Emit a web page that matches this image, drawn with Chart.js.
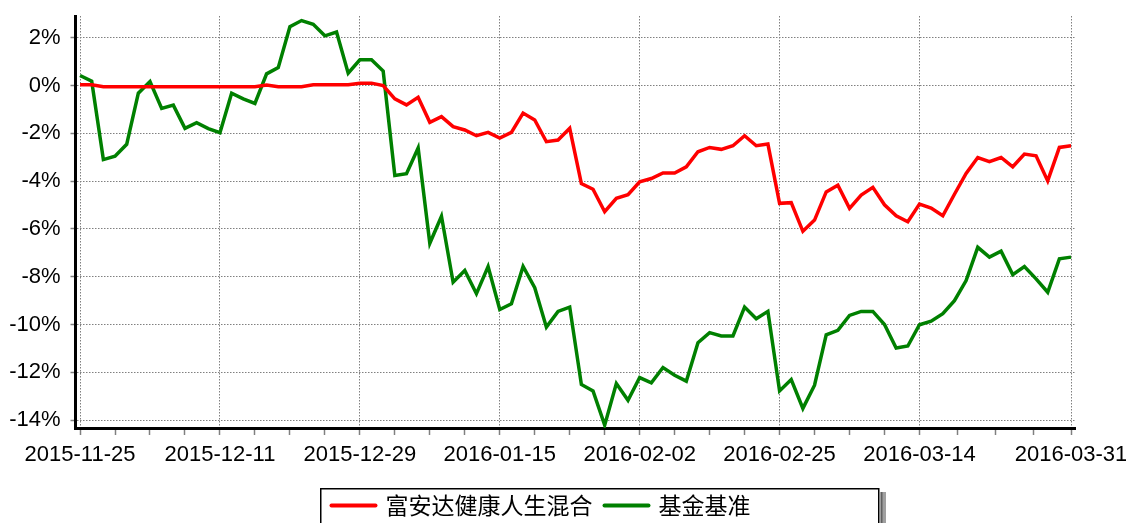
<!DOCTYPE html>
<html>
<head>
<meta charset="utf-8">
<script src="https://cdn.jsdelivr.net/npm/chart.js@4.4.1/dist/chart.umd.min.js"></script>
<style>
html,body{margin:0;padding:0;background:#fff;}
#wrap{width:1126px;height:523px;position:relative;}
</style>
</head>
<body>
<div id="wrap"><canvas id="c"></canvas></div>
<script>
// ---- data ----
const dates = [
 '2015-11-25','2015-11-26','2015-11-27','2015-11-30','2015-12-01','2015-12-02','2015-12-03','2015-12-04',
 '2015-12-07','2015-12-08','2015-12-09','2015-12-10','2015-12-11','2015-12-14','2015-12-15','2015-12-16',
 '2015-12-17','2015-12-18','2015-12-21','2015-12-22','2015-12-23','2015-12-24','2015-12-25','2015-12-28',
 '2015-12-29','2015-12-30','2015-12-31','2016-01-04','2016-01-05','2016-01-06','2016-01-07','2016-01-08',
 '2016-01-11','2016-01-12','2016-01-13','2016-01-14','2016-01-15','2016-01-18','2016-01-19','2016-01-20',
 '2016-01-21','2016-01-22','2016-01-25','2016-01-26','2016-01-27','2016-01-28','2016-01-29','2016-02-01',
 '2016-02-02','2016-02-03','2016-02-04','2016-02-05','2016-02-15','2016-02-16','2016-02-17','2016-02-18',
 '2016-02-19','2016-02-22','2016-02-23','2016-02-24','2016-02-25','2016-02-26','2016-02-29','2016-03-01',
 '2016-03-02','2016-03-03','2016-03-04','2016-03-07','2016-03-08','2016-03-09','2016-03-10','2016-03-11',
 '2016-03-14','2016-03-15','2016-03-16','2016-03-17','2016-03-18','2016-03-21','2016-03-22','2016-03-23',
 '2016-03-24','2016-03-25','2016-03-28','2016-03-29','2016-03-30','2016-03-31'
];
const fundValues = [
 0.03,0.03,-0.05,-0.05,-0.05,-0.05,-0.05,-0.05,-0.05,-0.05,-0.05,-0.05,-0.05,-0.05,-0.05,-0.05,
 0.02,-0.05,-0.05,-0.05,0.03,0.03,0.03,0.03,0.10,0.10,0.00,-0.56,-0.81,-0.49,-1.54,-1.30,
 -1.72,-1.86,-2.10,-1.96,-2.20,-1.96,-1.15,-1.44,-2.35,-2.28,-1.79,-4.10,-4.34,-5.28,-4.72,-4.57,
 -4.03,-3.89,-3.66,-3.66,-3.40,-2.77,-2.59,-2.67,-2.52,-2.10,-2.52,-2.45,-4.93,-4.90,-6.10,-5.63,
 -4.45,-4.17,-5.14,-4.58,-4.26,-4.99,-5.45,-5.70,-4.96,-5.13,-5.45,-4.55,-3.68,-3.01,-3.18,-3.01,
 -3.40,-2.87,-2.94,-3.99,-2.59,-2.52
];
const benchValues = [
 0.42,0.18,-3.10,-2.96,-2.46,-0.32,0.17,-0.96,-0.82,-1.79,-1.55,-1.80,-1.97,-0.32,-0.56,-0.75,
 0.49,0.75,2.46,2.72,2.56,2.08,2.24,0.52,1.08,1.08,0.61,-3.76,-3.69,-2.61,-6.60,-5.47,
 -8.23,-7.74,-8.71,-7.57,-9.37,-9.13,-7.57,-8.46,-10.11,-9.45,-9.27,-12.51,-12.78,-14.21,-12.47,-13.17,
 -12.22,-12.44,-11.80,-12.12,-12.37,-10.76,-10.34,-10.48,-10.48,-9.27,-9.76,-9.45,-12.78,-12.30,-13.51,-12.54,
 -10.43,-10.24,-9.62,-9.45,-9.45,-10.00,-10.98,-10.90,-10.01,-9.86,-9.55,-9.00,-8.16,-6.77,-7.18,-6.93,
 -7.91,-7.57,-8.09,-8.65,-7.25,-7.18
];
const seriesNames = ['富安达健康人生混合', '基金基准'];
const seriesColors = ['#ff0000', '#008000'];
const xLabelIndexes = [0, 12, 24, 36, 48, 60, 72, 85];
const yTickValues = [-14,-13,-12,-11,-10,-9,-8,-7,-6,-5,-4,-3,-2,-1,0,1,2];

// ---- helpers ----
const xTickPositions = [];
for (let s = 0; s < xLabelIndexes.length - 1; s++) {
  const a = xLabelIndexes[s], b = xLabelIndexes[s + 1];
  for (let k = 0; k < 4; k++) xTickPositions.push(a + (b - a) * k / 4);
}
xTickPositions.push(xLabelIndexes[xLabelIndexes.length - 1]);
const isMajorX = v => xLabelIndexes.some(i => Math.abs(i - v) < 1e-6);
const isEvenY = v => Math.abs(Math.round(v)) % 2 === 0;
const toXY = arr => arr.map((v, i) => ({x: i, y: v}));

const GRID = '#808080';
const FONT = "Arial, 'Liberation Sans', sans-serif";

const boxLegend = {
  id: 'boxLegend',
  afterDraw(chart) {
    const ctx = chart.ctx;
    const bx = 320, by = 488, bw = 558, bh = 60;
    ctx.save();
    ctx.fillStyle = '#a0a0a0';
    ctx.fillRect(bx + bw + 2, by + 4, 6, bh);
    ctx.fillStyle = '#606060';
    ctx.fillRect(bx + bw + 3, by + 4, 1.5, bh);
    ctx.fillStyle = '#ffffff';
    ctx.fillRect(bx, by, bw, bh);
    ctx.strokeStyle = '#000000';
    ctx.lineWidth = 1.5;
    ctx.strokeRect(bx + 0.75, by + 0.75, bw, bh);
    ctx.font = "23px 'Noto Sans CJK SC', sans-serif";
    ctx.textBaseline = 'middle';
    ctx.textAlign = 'left';
    const cy = 505.5;
    let x = bx + 10.5;
    chart.data.datasets.forEach((ds, i) => {
      ctx.strokeStyle = ds.borderColor;
      ctx.lineWidth = 4;
      ctx.lineCap = 'round';
      ctx.beginPath();
      ctx.moveTo(x + 1, cy);
      ctx.lineTo(x + 45, cy);
      ctx.stroke();
      x += 55;
      ctx.fillStyle = '#000';
      ctx.fillText(ds.label, x, cy);
      x += ctx.measureText(ds.label).width + 11;
    });
    ctx.restore();
  }
};

new Chart(document.getElementById('c'), {
  type: 'line',
  data: {
    datasets: [
      {label: seriesNames[0], data: toXY(fundValues), borderColor: seriesColors[0], backgroundColor: seriesColors[0],
       borderWidth: 3.5, pointRadius: 0, tension: 0, fill: false},
      {label: seriesNames[1], data: toXY(benchValues), borderColor: seriesColors[1], backgroundColor: seriesColors[1],
       borderWidth: 3.5, pointRadius: 0, tension: 0, fill: false}
    ]
  },
  options: {
    responsive: true,
    maintainAspectRatio: false,
    animation: false,
    layout: {padding: {left: 0, right: 51, top: 16, bottom: 55}},
    plugins: {legend: {display: false}, tooltip: {enabled: false}},
    scales: {
      x: {
        type: 'linear',
        min: -0.39,
        max: 85.34,
        afterBuildTicks: s => { s.ticks = xTickPositions.map(v => ({value: v})); },
        afterFit: s => { s.height = 40; s.paddingLeft = 0; s.paddingRight = 0; s.paddingTop = 0; s.paddingBottom = 0; },
        ticks: {
          autoSkip: false, maxRotation: 0, minRotation: 0, padding: 7, color: '#000',
          font: {family: FONT, size: 22},
          callback: v => { const i = xLabelIndexes.find(k => Math.abs(k - v) < 1e-6); return i === undefined ? '' : dates[i]; }
        },
        grid: {
          color: c => (c.tick && isMajorX(c.tick.value)) ? GRID : 'rgba(0,0,0,0)',
          lineWidth: 1, tickColor: GRID, tickLength: 7, tickWidth: 1.5, tickBorderDash: [], drawTicks: true
        },
        border: {display: true, color: '#000', width: 3, dash: [1.5, 1.5]}
      },
      y: {
        type: 'linear',
        min: -14.33,
        max: 2.91,
        afterBuildTicks: s => { s.ticks = yTickValues.map(v => ({value: v})); },
        afterFit: s => { s.width = 75.5; s.paddingLeft = 0; s.paddingRight = 0; s.paddingTop = 0; s.paddingBottom = 0; },
        ticks: {
          padding: 10, color: '#000', font: {family: FONT, size: 22},
          callback: v => isEvenY(v) ? (Math.round(v) + '%') : ''
        },
        grid: {
          color: c => (c.tick && isEvenY(c.tick.value)) ? GRID : 'rgba(0,0,0,0)',
          lineWidth: 1, tickColor: GRID, tickLength: 5, tickWidth: 1.5, tickBorderDash: [], drawTicks: true
        },
        border: {display: true, color: '#000', width: 3, dash: [1.5, 1.5]}
      }
    }
  },
  plugins: [boxLegend]
});
</script>
</body>
</html>
